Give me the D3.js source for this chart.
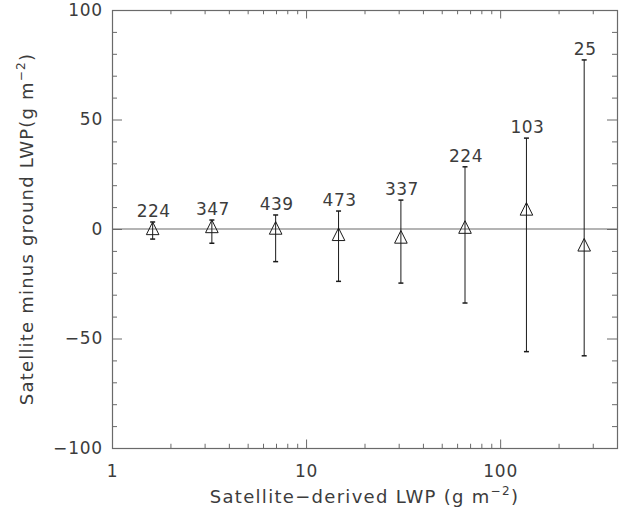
<!DOCTYPE html>
<html>
<head>
<meta charset="utf-8">
<script src="https://cdn.jsdelivr.net/npm/d3@7"></script>
<style>
	body { margin: 0; background: #fff; }
	text { font-family: "DejaVu Sans", sans-serif; fill: #3c3c3c; }
</style>
</head>
<body>
<div id="chart"></div>
<script>

// bin centres (satellite LWP), mean difference and error bar ends, sample counts
var binLWP = [1.62, 3.27, 6.97, 14.7, 30.8, 65.9, 136.6, 271];
var meanDiff = [0.3, 1.2, 0.5, -2.4, -3.6, 0.9, 9.2, -7.2];
var upperDiff = [3.2, 4.1, 6.4, 8.2, 13.2, 28.4, 41.5, 77.2];
var lowerDiff = [-4.6, -6.5, -14.9, -23.9, -24.7, -33.8, -56.0, -57.9];
var sampleCounts = [224, 347, 439, 473, 337, 224, 103, 25];

var xMajorTicks = [1, 10, 100];
var yMajorTicks = [-100, -50, 0, 50, 100];


var width = 620, height = 508;
var margin = {left: 112, right: 3, top: 10, bottom: 60};

var svg = d3.select('#chart').append('svg')
	.attr('width', width)
	.attr('height', height);

var x = d3.scaleLog()
	.domain([1, 400])
	.range([margin.left, width - margin.right]);

var y = d3.scaleLinear()
	.domain([-100, 100])
	.range([height - margin.bottom, margin.top]);

var axisColor = '#6a6a6a';
var markColor = '#1a1a1a';

// log minor ticks: 2..9 in each decade, only up to the end of the domain
function getMinorLogTicks() {
	var ticks = [];
	xMajorTicks.forEach(function(decade) {
		for (var k = 2; k <= 9; k++) {
			if (decade * k < x.domain()[1]) ticks.push(decade * k);
		}
	});
	return ticks;
}

function yMinorTicks() {
	return d3.range(-100, 101, 10).filter(function(v) { return v % 50 !== 0; });
}

var xLen = 8.5, yLen = 10;
var pxTop = margin.top, pxBottom = height - margin.bottom;
var pxLeft = margin.left, pxRight = width - margin.right;

// bottom + top axes
var bottomAxis = d3.axisBottom(x).tickValues(xMajorTicks).tickSize(-xLen).tickFormat(d3.format('d')).tickPadding(17);
var bottomMinor = d3.axisBottom(x).tickValues(getMinorLogTicks()).tickSize(-xLen / 2).tickFormat('');
var topAxis = d3.axisTop(x).tickValues(xMajorTicks).tickSize(-xLen).tickFormat('');
var topMinor = d3.axisTop(x).tickValues(getMinorLogTicks()).tickSize(-xLen / 2).tickFormat('');

var leftAxis = d3.axisLeft(y).tickValues(yMajorTicks).tickSize(-yLen).tickPadding(9)
	.tickFormat(function(d) { return d < 0 ? '\u2212' + Math.abs(d) : d; });
var leftMinor = d3.axisLeft(y).tickValues(yMinorTicks()).tickSize(-yLen / 2).tickFormat('');
var rightAxis = d3.axisRight(y).tickValues(yMajorTicks).tickSize(-yLen).tickFormat('');
var rightMinor = d3.axisRight(y).tickValues(yMinorTicks()).tickSize(-yLen / 2).tickFormat('');

function drawAxis(axis, transform) {
	var g = svg.append('g')
		.attr('transform', transform)
		.call(axis);
	g.select('.domain').remove();
	g.selectAll('line').attr('stroke', axisColor);
	g.selectAll('text')
		.attr('font-size', 17)
		.attr('font-family', null)
		.attr('fill', null)
		.attr('letter-spacing', 0.8);
	return g;
}

drawAxis(bottomAxis, 'translate(0,' + pxBottom + ')');
drawAxis(bottomMinor, 'translate(0,' + pxBottom + ')');
drawAxis(topAxis, 'translate(0,' + pxTop + ')');
drawAxis(topMinor, 'translate(0,' + pxTop + ')');
drawAxis(leftAxis, 'translate(' + pxLeft + ',0)');
drawAxis(leftMinor, 'translate(' + pxLeft + ',0)');
drawAxis(rightAxis, 'translate(' + pxRight + ',0)');
drawAxis(rightMinor, 'translate(' + pxRight + ',0)');

// frame
svg.append('rect')
	.attr('x', pxLeft + 0.5)
	.attr('y', pxTop + 0.5)
	.attr('width', pxRight - pxLeft)
	.attr('height', pxBottom - pxTop)
	.attr('fill', 'none')
	.attr('stroke', axisColor)
	.attr('stroke-width', 1.2);

// zero line
svg.append('line')
	.attr('x1', pxLeft).attr('x2', pxRight)
	.attr('y1', y(0)).attr('y2', y(0))
	.attr('stroke', axisColor)
	.attr('stroke-width', 1.2);

var points = binLWP.map(function(v, i) {
	return {x: v, mean: meanDiff[i], hi: upperDiff[i], lo: lowerDiff[i], n: sampleCounts[i]};
});

var groups = svg.append('g').selectAll('g.bin')
	.data(points)
	.enter().append('g')
	.attr('class', 'bin');

groups.append('line')
	.attr('x1', function(d) { return x(d.x); })
	.attr('x2', function(d) { return x(d.x); })
	.attr('y1', function(d) { return y(d.hi); })
	.attr('y2', function(d) { return y(d.lo); })
	.attr('stroke', markColor);

var capW = 2.5;
['hi', 'lo'].forEach(function(key) {
	groups.append('line')
		.attr('x1', function(d) { return x(d.x) - capW; })
		.attr('x2', function(d) { return x(d.x) + capW; })
		.attr('y1', function(d) { return y(d[key]); })
		.attr('y2', function(d) { return y(d[key]); })
		.attr('stroke', markColor)
		.attr('stroke-width', 1.5);
});

// open triangles, centred on the bounding box like IDL psym=5
var tri = 6.3;
groups.append('path')
	.attr('d', function(d) {
		var cx = x(d.x), cy = y(d.mean);
		return 'M' + (cx - tri) + ',' + (cy + tri) + 'L' + cx + ',' + (cy - tri) + 'L' + (cx + tri) + ',' + (cy + tri) + 'Z';
	})
	.attr('fill', 'none')
	.attr('stroke', markColor);

groups.append('text')
	.attr('x', function(d) { return x(d.x) + 1; })
	.attr('y', function(d) { return y(d.hi) - 5; })
	.attr('text-anchor', 'middle')
	.attr('font-size', 17)
	.attr('letter-spacing', 0.5)
	.text(function(d) { return d.n; });

// axis titles
var xTitle = svg.append('text')
	.attr('x', (pxLeft + pxRight) / 2)
	.attr('y', 503)
	.attr('text-anchor', 'middle')
	.attr('font-size', 18)
	.attr('letter-spacing', 1.3);
xTitle.append('tspan').text('Satellite\u2212derived LWP (g m');
xTitle.append('tspan').attr('font-size', 12).attr('dy', -8).text('\u22122');
xTitle.append('tspan').attr('dy', 8).text(')');

var yTitle = svg.append('text')
	.attr('transform', 'translate(33,' + (pxTop + pxBottom) / 2 + ') rotate(-90)')
	.attr('text-anchor', 'middle')
	.attr('font-size', 18)
	.attr('letter-spacing', 1.2);
yTitle.append('tspan').text('Satellite minus ground LWP(g m');
yTitle.append('tspan').attr('font-size', 12).attr('dy', -8).text('\u22122');
yTitle.append('tspan').attr('dy', 8).text(')');

</script>
</body>
</html>
